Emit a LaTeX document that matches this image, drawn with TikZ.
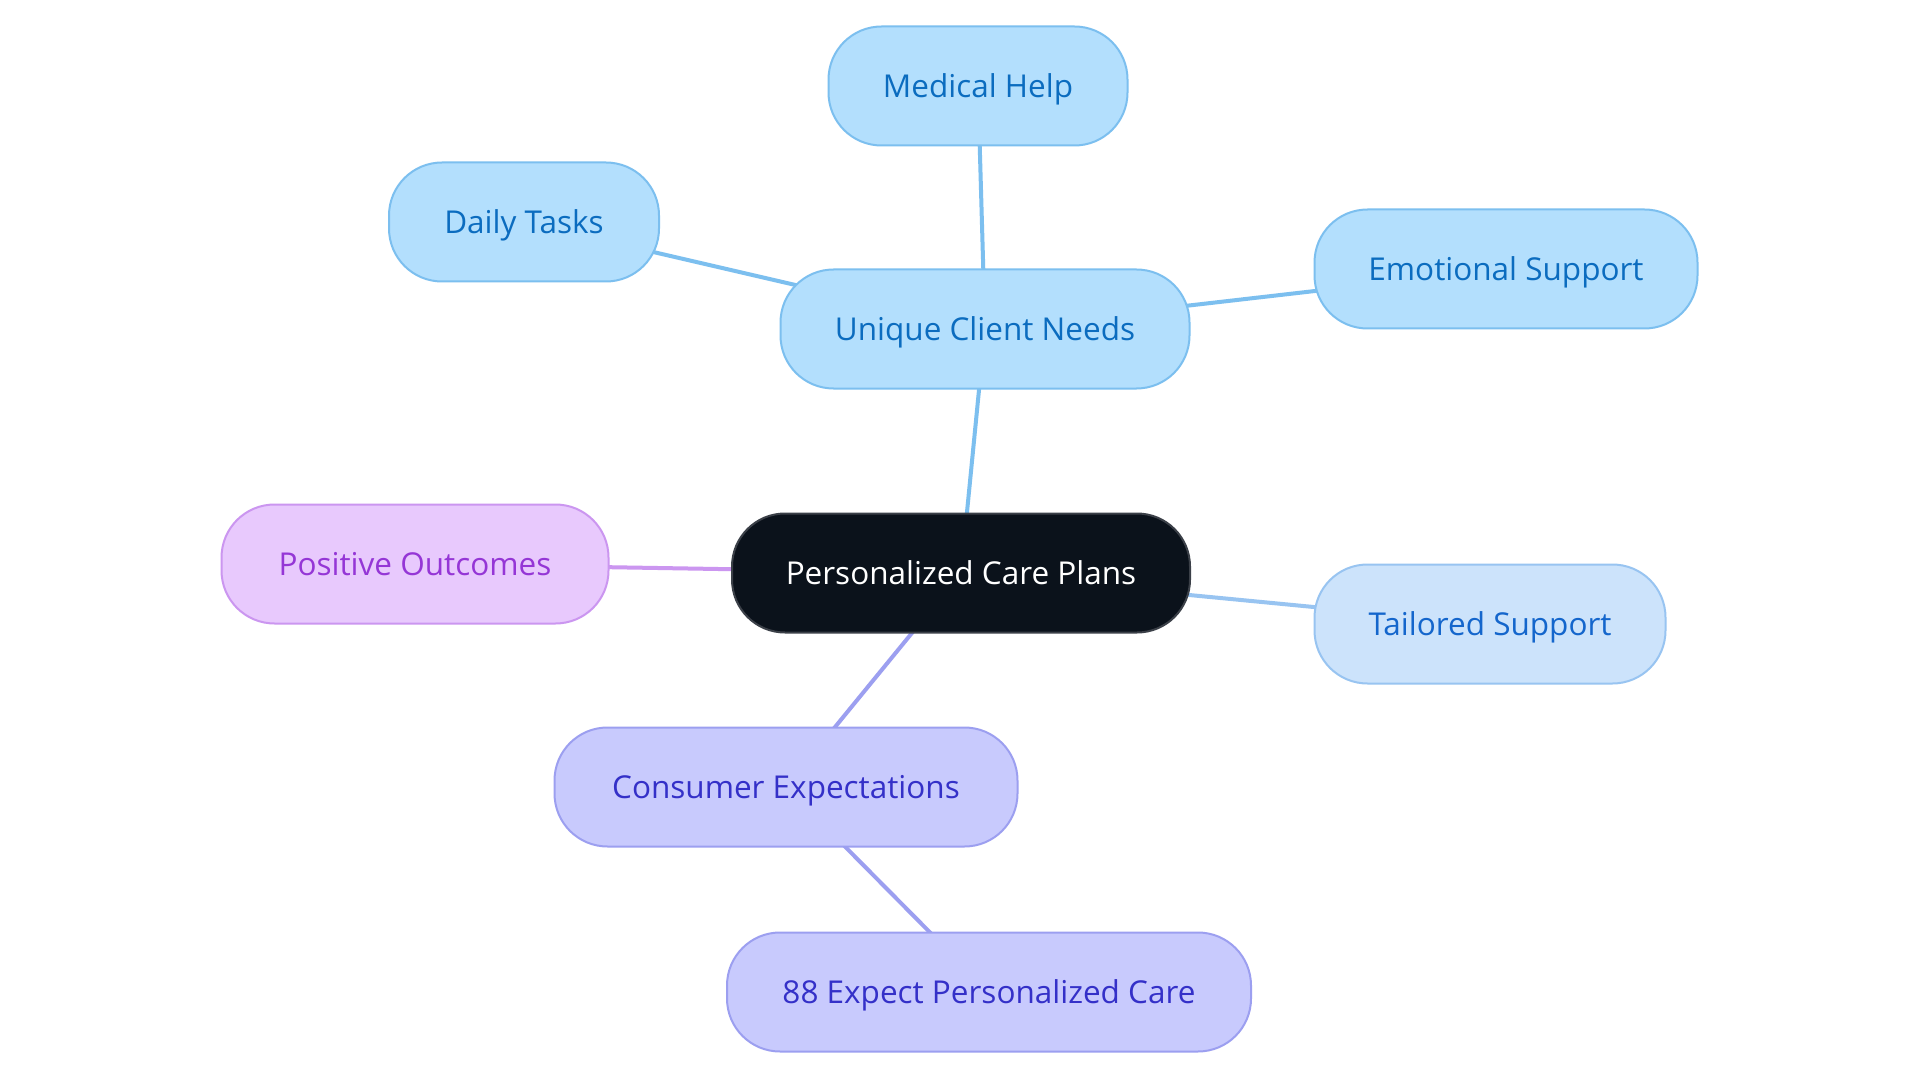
\documentclass[tikz,border=0pt]{standalone}
\usepackage{fontspec}
\setmainfont{Open Sans}
\usetikzlibrary{backgrounds}
\definecolor{bluefill}{HTML}{B3DFFD}
\definecolor{blueline}{HTML}{7CBFEF}
\definecolor{bluetext}{HTML}{0B6CBF}
\definecolor{tailfill}{HTML}{CCE3FB}
\definecolor{tailline}{HTML}{98C4F1}
\definecolor{tailtext}{HTML}{1466CC}
\definecolor{purfill}{HTML}{E8C9FD}
\definecolor{purline}{HTML}{CB96F0}
\definecolor{purtext}{HTML}{9536D6}
\definecolor{indfill}{HTML}{C8CAFD}
\definecolor{indline}{HTML}{9C9FF0}
\definecolor{indtext}{HTML}{3430C8}
\definecolor{darkfill}{HTML}{0B121B}
\definecolor{darkline}{HTML}{3B4048}
\tikzset{
  pill/.style={rectangle, rounded corners=53pt, line width=2pt, minimum height=119pt,
    inner sep=0pt, text height=22.5pt, text depth=0pt, font=\fontsize{31.5}{36}\selectfont},
  bluenode/.style={pill, fill=bluefill, draw=blueline, text=bluetext},
  tailnode/.style={pill, fill=tailfill, draw=tailline, text=tailtext},
  purnode/.style={pill, fill=purfill, draw=purline, text=purtext},
  indnode/.style={pill, fill=indfill, draw=indline, text=indtext},
  darknode/.style={pill, fill=darkfill, draw=darkline, text=white},
  conn/.style={line width=4pt},
}
\begin{document}
\begin{tikzpicture}[x=1pt,y=-1pt]
\useasboundingbox (0,0) rectangle (1920,1083);
\node[darknode, minimum width=458pt] (center) at (961,573) {Personalized Care Plans};
\node[bluenode, minimum width=409pt] (unique) at (985,329) {Unique Client Needs};
\node[bluenode, minimum width=299pt] (medical) at (978,86) {Medical Help};
\node[bluenode, minimum width=270pt] (daily) at (524,222) {Daily Tasks};
\node[bluenode, minimum width=383pt] (emotional) at (1506,269) {Emotional Support};
\node[tailnode, minimum width=351pt] (tailored) at (1490,624) {Tailored Support};
\node[purnode, minimum width=387pt] (positive) at (415,564) {Positive Outcomes};
\node[indnode, minimum width=463pt] (consumer) at (786,787) {Consumer Expectations};
\node[indnode, minimum width=524pt] (expect) at (989,992) {88 Expect Personalized Care};
\begin{scope}[on background layer]
\fill[white] (0,0) rectangle (1920,1083);
\draw[conn, blueline] (center.center) -- (unique.center);
\draw[conn, blueline] (unique.center) -- (medical.center);
\draw[conn, blueline] (unique.center) -- (daily.center);
\draw[conn, blueline] (unique.center) -- (emotional.center);
\draw[conn, tailline] (center.center) -- (tailored.center);
\draw[conn, purline] (center.center) -- (positive.center);
\draw[conn, indline] (center.center) -- (consumer.center);
\draw[conn, indline] (consumer.center) -- (expect.center);
\end{scope}
\end{tikzpicture}
\end{document}
